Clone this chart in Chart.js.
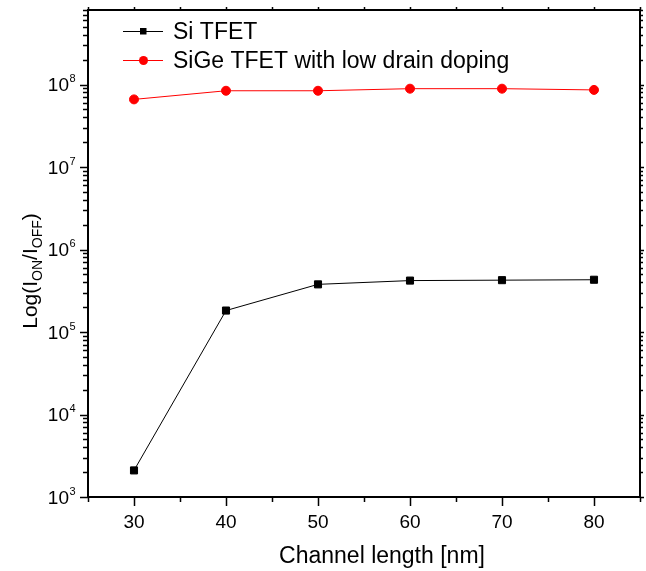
<!DOCTYPE html>
<html>
<head>
<meta charset="utf-8">
<script src="https://cdn.jsdelivr.net/npm/chart.js@4"></script>
<style>
  html, body { margin: 0; padding: 0; background: #fff; }
  #wrap { width: 646px; height: 571px; }
</style>
</head>
<body>
<div id="wrap"><canvas id="chart" width="646" height="571"></canvas></div>
<script>
// values
const channelLength = [30, 40, 50, 60, 70, 80];
const siTfet = [2.1e3, 1.82e5, 3.78e5, 4.2e5, 4.25e5, 4.3e5];
const sigeTfet = [6.6e7, 8.4e7, 8.4e7, 8.9e7, 8.9e7, 8.6e7];
const xTickLabels = [30, 40, 50, 60, 70, 80];
const yTickExponents = [3, 4, 5, 6, 7, 8];
const seriesNames = ["Si TFET", "SiGe TFET with low drain doping"];

const FONT = "Arial, 'Liberation Sans', Helvetica, sans-serif";

// axes, ticks, labels, titles and legend drawn by hand on top of the scales
const framePlugin = {
  id: "frame",
  afterDraw(chart) {
    const ctx = chart.ctx;
    const xs = chart.scales.x;
    const ys = chart.scales.y;
    const a = chart.chartArea;
    ctx.save();
    ctx.strokeStyle = "#000";
    ctx.fillStyle = "#000";

    // frame
    ctx.lineWidth = 2;
    ctx.strokeRect(a.left, a.top, a.right - a.left, a.bottom - a.top);

    // x ticks (bottom outward, top small)
    ctx.lineWidth = 1.5;
    for (let v = xs.min; v <= xs.max + 0.01; v += 5) {
      const px = Math.round(xs.getPixelForValue(v)) + 0.5;
      const major = v % 10 === 0;
      ctx.beginPath();
      ctx.moveTo(px, a.bottom);
      ctx.lineTo(px, a.bottom + (major ? 9 : 5));
      ctx.moveTo(px, a.top);
      ctx.lineTo(px, a.top - 3);
      ctx.stroke();
    }

    // y ticks (left outward, right small)
    for (let e = yTickExponents[0]; e <= yTickExponents[yTickExponents.length - 1]; e++) {
      for (let m = 1; m <= 9; m++) {
        const v = m * Math.pow(10, e);
        if (v > ys.max * 1.001) break;
        const py = Math.round(ys.getPixelForValue(v)) + 0.5;
        const major = m === 1;
        ctx.beginPath();
        ctx.moveTo(a.left, py);
        ctx.lineTo(a.left - (major ? 8 : 5), py);
        ctx.moveTo(a.right, py);
        ctx.lineTo(a.right + (major ? 4 : 3), py);
        ctx.stroke();
      }
    }

    // x tick labels
    ctx.font = "19px " + FONT;
    ctx.textAlign = "center";
    ctx.textBaseline = "alphabetic";
    xTickLabels.forEach(v => {
      ctx.fillText(String(v), xs.getPixelForValue(v), 528);
    });

    // y tick labels 10^n
    yTickExponents.forEach(e => {
      const py = ys.getPixelForValue(Math.pow(10, e));
      ctx.font = "19px " + FONT;
      ctx.textAlign = "right";
      ctx.fillText("10", 69, py + 6.5);
      ctx.font = "11px " + FONT;
      ctx.textAlign = "left";
      ctx.fillText(String(e), 69.5, py - 2.5);
    });

    // x title
    ctx.font = "23px " + FONT;
    ctx.textAlign = "center";
    ctx.fillText("Channel length [nm]", 382, 563);

    // y title with subscripts
    const parts = [
      ["Log(I", 21, 0], ["ON", 14, 5], ["/I", 21, 0], ["OFF", 14, 5], [")", 21, 0]
    ];
    let total = 0;
    parts.forEach(p => { ctx.font = p[1] + "px " + FONT; total += ctx.measureText(p[0]).width; });
    ctx.translate(37, 271 + total / 2);
    ctx.rotate(-Math.PI / 2);
    ctx.textAlign = "left";
    let cx = 0;
    parts.forEach(p => {
      ctx.font = p[1] + "px " + FONT;
      ctx.fillText(p[0], cx, p[2]);
      cx += ctx.measureText(p[0]).width;
    });
    ctx.setTransform(1, 0, 0, 1, 0, 0);

    // legend
    const rows = [
      { y: 31, color: "#000", shape: "rect" },
      { y: 60, color: "#ff0000", shape: "circle" }
    ];
    rows.forEach((r, i) => {
      ctx.strokeStyle = r.color;
      ctx.fillStyle = r.color;
      ctx.lineWidth = 1;
      ctx.beginPath();
      ctx.moveTo(123, r.y + 0.5);
      ctx.lineTo(163, r.y + 0.5);
      ctx.stroke();
      ctx.beginPath();
      if (r.shape === "rect") {
        ctx.rect(140, r.y - 3, 6.5, 6.5);
      } else {
        ctx.arc(143.5, r.y + 0.5, 4.5, 0, Math.PI * 2);
      }
      ctx.fill();
      ctx.fillStyle = "#000";
      ctx.font = "23px " + FONT;
      ctx.textAlign = "left";
      ctx.fillText(seriesNames[i], 173, r.y + 8);
    });

    ctx.restore();
  }
};

new Chart(document.getElementById("chart"), {
  type: "line",
  data: {
    datasets: [
      {
        label: seriesNames[0],
        data: channelLength.map((x, i) => ({ x: x, y: siTfet[i] })),
        borderColor: "#000",
        backgroundColor: "#000",
        borderWidth: 1,
        pointStyle: "rect",
        pointRadius: 5,
        pointBorderWidth: 1,
        tension: 0
      },
      {
        label: seriesNames[1],
        data: channelLength.map((x, i) => ({ x: x, y: sigeTfet[i] })),
        borderColor: "#ff0000",
        backgroundColor: "#ff0000",
        borderWidth: 1,
        pointStyle: "circle",
        pointRadius: 4.5,
        pointBorderWidth: 1,
        tension: 0
      }
    ]
  },
  options: {
    responsive: false,
    animation: false,
    layout: { padding: { left: 88, right: 3, top: 10, bottom: 74 } },
    plugins: {
      legend: { display: false },
      tooltip: { enabled: false }
    },
    scales: {
      x: { type: "linear", min: 25, max: 85, display: false },
      y: { type: "logarithmic", min: 1e3, max: 8e8, display: false }
    }
  },
  plugins: [framePlugin]
});
</script>
</body>
</html>
